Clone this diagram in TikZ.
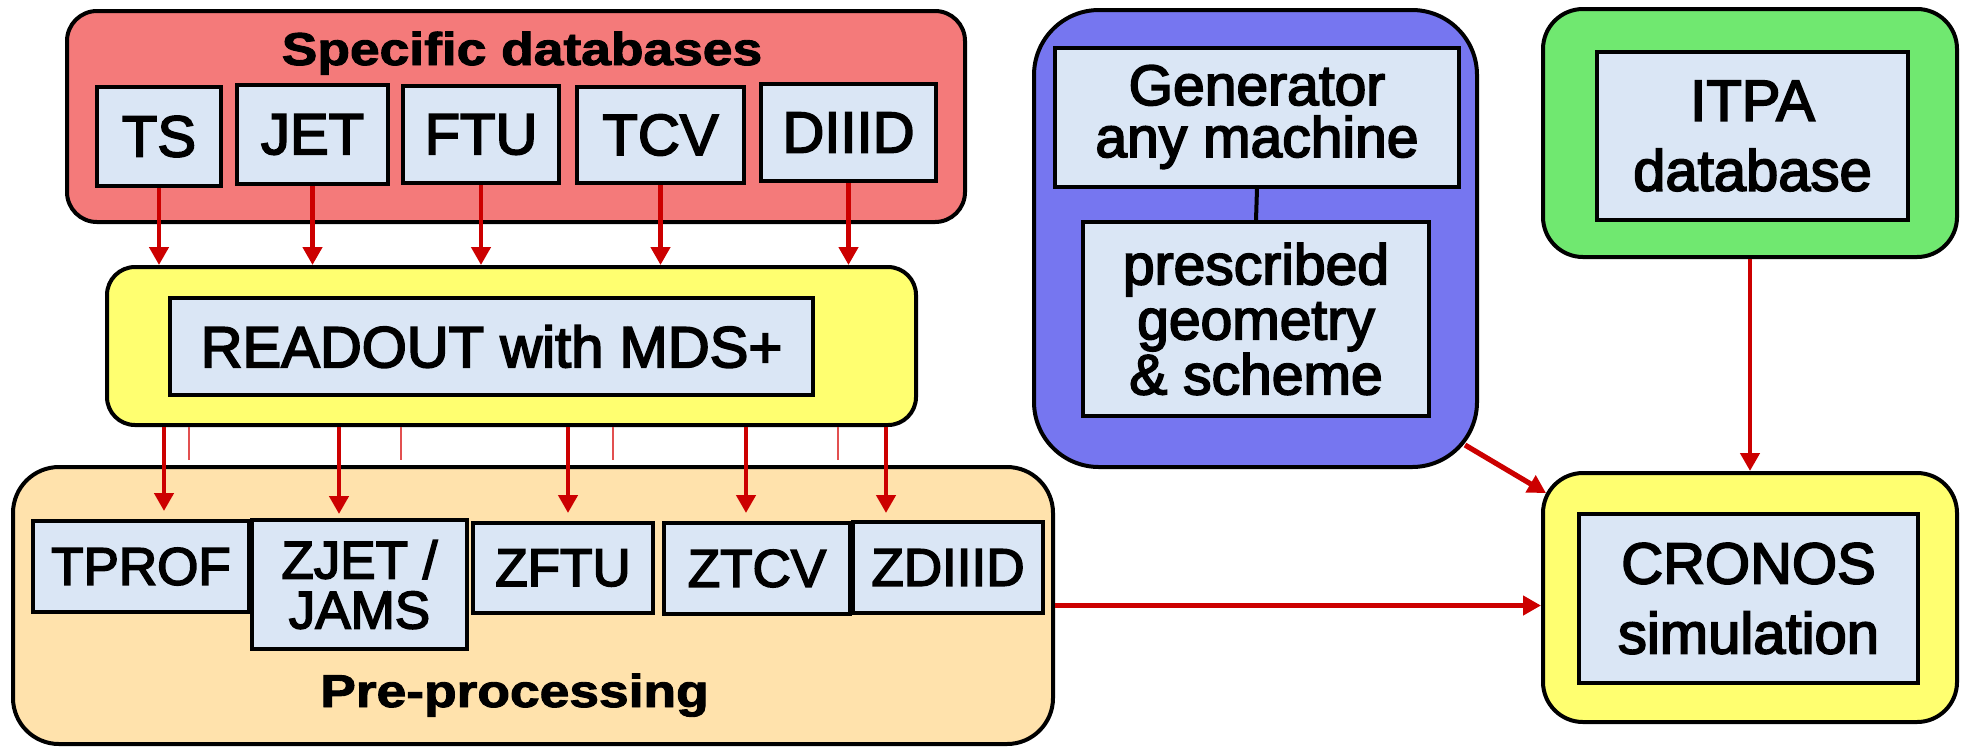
\documentclass[tikz,border=0pt]{standalone}
\usepackage{fontspec}
\setmainfont{Liberation Sans}
\newfontfamily\medfont{Liberation Sans}[FakeBold=3]
\newfontfamily\titlefont{Liberation Sans Bold}[FakeBold=2]
\usepackage{graphicx}
\usetikzlibrary{arrows.meta,calc}
\definecolor{redfill}{RGB}{244,122,122}
\definecolor{yelfill}{RGB}{255,255,112}
\definecolor{orfill}{RGB}{255,226,172}
\definecolor{bluefill}{RGB}{118,118,240}
\definecolor{grnfill}{RGB}{112,232,112}
\definecolor{boxfill}{RGB}{218,230,245}
\definecolor{arrred}{RGB}{204,0,0}
\definecolor{strayred}{RGB}{226,80,80}
\begin{document}
\begin{tikzpicture}[x=0.5pt,y=-0.5pt,
  group/.style={draw=black, line width=2pt, inner sep=0pt},
  ibox/.style={draw=black, line width=2pt, fill=boxfill, inner sep=0pt, align=center, font=\medfont\fontsize{29pt}{34pt}\selectfont},
  pbox/.style={ibox, font=\medfont\fontsize{26.5pt}{25pt}\selectfont},
  arr/.style={draw=arrred, line width=2.2pt, -{Triangle[width=9.5pt,length=9pt]}},
  strayline/.style={draw=strayred, line width=0.6pt},
  grouptitle/.style={font=\titlefont\fontsize{23pt}{28pt}\selectfont, inner sep=0pt, anchor=base}
]
\useasboundingbox (0,0) rectangle (1963,746);

% ---- group boxes
\node[group, fill=redfill, rounded corners=15pt, minimum width=449pt, minimum height=105.5pt] (specdb) at (516,116.5) {};
\node[group, fill=yelfill, rounded corners=14pt, minimum width=404.5pt, minimum height=79pt] (readout) at (511.5,346) {};
\node[group, fill=orfill, rounded corners=23pt, minimum width=520pt, minimum height=138.5pt] (pre) at (533,605.5) {};
\node[group, fill=bluefill, rounded corners=32.5pt, minimum width=221.5pt, minimum height=228.5pt] (blue) at (1255.5,238.5) {};
\node[group, fill=grnfill, rounded corners=20pt, minimum width=207pt, minimum height=124pt] (green) at (1750,133) {};
\node[group, fill=yelfill, rounded corners=20pt, minimum width=207pt, minimum height=124.5pt] (cronos) at (1750,597.5) {};

% ---- titles
\node[grouptitle] (sdtitle) at (522,65) {\scalebox{1.16}[1]{Specific databases}};
\node[grouptitle] (pretitle) at (514.5,707) {\scalebox{1.16}[1]{Pre-processing}};

% ---- specific databases
\node[ibox, minimum width=62pt, minimum height=49.5pt] (ts) at (159,136.5) {TS};
\node[ibox, minimum width=75.5pt, minimum height=49.5pt] (jet) at (312.5,134.5) {JET};
\node[ibox, minimum width=78pt, minimum height=48.5pt] (ftu) at (481,134.5) {FTU};
\node[ibox, minimum width=83.5pt, minimum height=48pt] (tcv) at (660.5,135) {TCV};
\node[ibox, minimum width=87.5pt, minimum height=48.5pt] (diiid) at (848.5,132.5) {DIIID};

% ---- readout
\node[ibox, minimum width=321.5pt, minimum height=48.5pt] (rdin) at (491.5,346.5) {READOUT with MDS+};

% ---- pre-processing
\node[pbox, minimum width=108pt, minimum height=45.5pt] (tprof) at (141,566.5) {TPROF};
\node[pbox, minimum width=107.5pt, minimum height=64.5pt] (zjet) at (359.5,584.5) {ZJET /\\JAMS};
\node[pbox, minimum width=90pt, minimum height=45pt] (zftu) at (563,568) {ZFTU};
\node[pbox, minimum width=93pt, minimum height=45.5pt] (ztcv) at (757,568.5) {ZTCV};
\node[pbox, minimum width=95pt, minimum height=45.5pt] (zdiiid) at (948,567.5) {ZDIIID};

% ---- generator
\node[ibox, font=\medfont\fontsize{28.5pt}{26pt}\selectfont, minimum width=202pt, minimum height=69.5pt] (gen) at (1257,117) {Generator\\any machine};
\node[ibox, font=\medfont\fontsize{28.5pt}{27.5pt}\selectfont, minimum width=173pt, minimum height=97pt] (presc) at (1256,319) {prescribed\\geometry\\\& scheme};
\draw[black, line width=2pt] (gen.south) -- (presc.north);

% ---- ITPA and CRONOS
\node[ibox, font=\medfont\fontsize{29pt}{35pt}\selectfont, minimum width=155.5pt, minimum height=84pt] (itpa) at (1752.5,136) {ITPA\\database};
\node[ibox, font=\medfont\fontsize{29pt}{35pt}\selectfont, minimum width=169.5pt, minimum height=84.5pt] (crin) at (1748.5,598.5) {CRONOS\\simulation};

% ---- arrows specific -> readout
\foreach \n in {ts,jet,ftu,tcv,diiid}
  \draw[arr] (\n.south) -- (\n.south |- readout.north);

% ---- arrows readout -> pre-processing
\draw[arr, shorten >=4pt] (164,0 |- readout.south) -- (164,0 |- tprof.north);
\draw[arr, shorten >=2pt] (339,0 |- readout.south) -- (339,0 |- zjet.north);
\draw[arr, shorten >=4pt] (568,0 |- readout.south) -- (568,0 |- zftu.north);
\draw[arr, shorten >=4pt] (746,0 |- readout.south) -- (746,0 |- ztcv.north);
\draw[arr, shorten >=3.5pt] (886,0 |- readout.south) -- (886,0 |- zdiiid.north);

% ---- stray thin marks
\coordinate (s1) at (189,460);
\coordinate (s2) at (401,460);
\coordinate (s3) at (613,460);
\coordinate (s4) at (838,460);
\foreach \s in {s1,s2,s3,s4}
  \draw[strayline] (\s |- readout.south) -- (\s);

% ---- to CRONOS
\draw[arr] (pre.east) -- (pre.east -| cronos.west);
\draw[arr] (green.south) -- (cronos.north);
\draw[arr, line width=2.6pt] ($(blue.south east)+(-14,-24)$) -- ($(cronos.north west)+(5,22)$);
\end{tikzpicture}
\end{document}
